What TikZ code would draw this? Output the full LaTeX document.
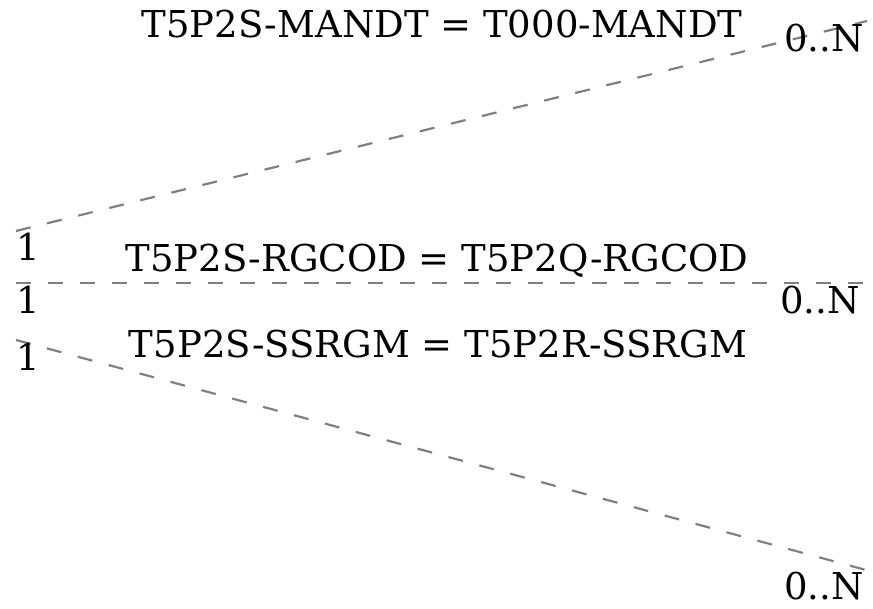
\documentclass[tikz,border=0pt]{standalone}
\usepackage{fontspec}
\setmainfont{DejaVu Serif}
\begin{document}
\begin{tikzpicture}[x=1pt,y=-1pt]
\tikzset{link/.style={draw=gray, line width=2.2pt, dash pattern=on 15pt off 17pt},
  lbl/.style={inner sep=0pt, font=\fontsize{37}{42}\selectfont}}
\useasboundingbox (0,0) rectangle (873,609);
\coordinate (s1) at (16,231);
\coordinate (e1) at (867,21);
\coordinate (s2) at (16,283);
\coordinate (e2) at (865,283);
\coordinate (s3) at (16,340);
\coordinate (e3) at (866,570);
\draw[link] (s1) -- (e1);
\draw[link] (s2) -- (e2);
\draw[link] (s3) -- (e3);
\node[lbl] (n1) at (28,247) {1};
\node[lbl] (n2) at (28,300) {1};
\node[lbl] (n3) at (28,357) {1};
\node[lbl] (m1) at (824,38) {0..N};
\node[lbl] (m2) at (820,300) {0..N};
\node[lbl] (m3) at (824,586) {0..N};
\node[lbl] (r1) at (442,24) {T5P2S-MANDT = T000-MANDT};
\node[lbl] (r2) at (437,261) {T5P2S-RGCOD = T5P2Q-RGCOD};
\node[lbl] (r3) at (438,344) {T5P2S-SSRGM = T5P2R-SSRGM};
\end{tikzpicture}
\end{document}
